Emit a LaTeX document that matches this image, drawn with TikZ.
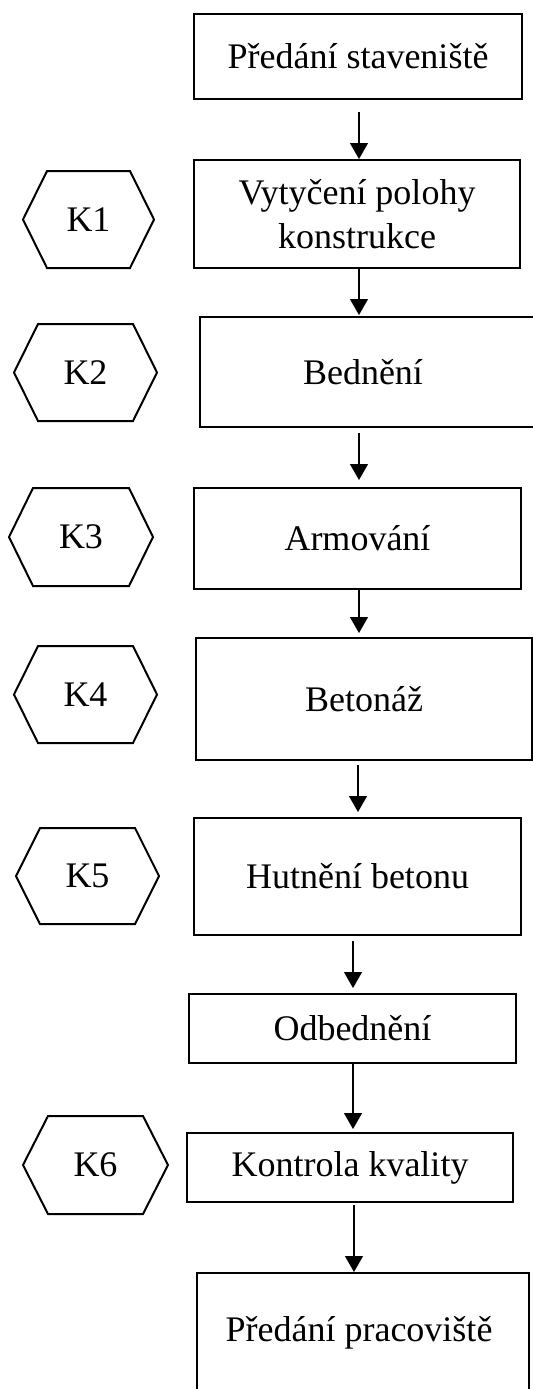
\documentclass[tikz,border=0pt]{standalone}
\usepackage{fontspec}
\setmainfont{Liberation Serif}
\usetikzlibrary{arrows.meta}
\newcommand{\flowbox}[6]{%
  \node[box, minimum width={(#4-#2)*0.5pt}, minimum height={(#5-#3)*0.5pt}] (#1) at ({(#2+#4)/2},{(#3+#5)/2}) {#6};}
\newcommand{\khex}[7]{%
  \node[txt] (#1) at (#2,#3) {#7};
  \draw[hexline] ({#2-#4},#3) -- ({#2-#4+#6},{#3-#5}) -- ({#2+#4-#6},{#3-#5}) -- ({#2+#4},#3)
     -- ({#2+#4-#6},{#3+#5}) -- ({#2-#4+#6},{#3+#5}) -- cycle;}
\begin{document}
\begin{tikzpicture}[x=0.5pt,y=-0.5pt,
  box/.style={draw, line width=1.4pt, inner sep=0pt, outer sep=0pt, align=center, font=\fontsize{18}{22}\selectfont},
  txt/.style={inner sep=0pt, align=center, font=\fontsize{18}{22}\selectfont},
  hexline/.style={line width=1pt, line join=miter},
  arr/.style={line width=0.65pt, -{Triangle[width=9pt,length=8pt]}}]
\useasboundingbox (0,0) rectangle (533,1389);

% process boxes
\flowbox{b1}{194}{14}{522}{99}{Předání staveniště}
\flowbox{b2}{194}{160}{520}{268}{Vytyčení polohy\\konstrukce}
\flowbox{b3}{200}{317}{548}{427}{}
\node[txt] (t3) at (363,372) {Bednění};
\flowbox{b4}{194}{488}{521}{589}{Armování}
\flowbox{b5}{196}{638}{532}{760}{Betonáž}
\flowbox{b6}{194}{818}{521}{935}{Hutnění betonu}
\flowbox{b7}{189}{994}{516}{1063}{Odbednění}
\flowbox{b8}{187}{1133}{513}{1202}{Kontrola kvality}
\flowbox{b9}{197}{1273}{529}{1400}{}
\node[txt] (t9) at (359,1333) {Předání pracoviště};

% control points
\khex{k1}{88.5}{219.5}{65.5}{48.5}{24}{K1}
\khex{k2}{85.5}{372.5}{71.5}{48.5}{24}{K2}
\khex{k3}{81}{537}{72}{49}{24}{K3}
\khex{k4}{85.5}{694.5}{71.5}{48.5}{24}{K4}
\khex{k5}{87.5}{876}{71.5}{48}{24}{K5}
\khex{k6}{95.5}{1165}{72.5}{49}{25}{K6}

% arrows
\draw[arr] ([shift={(1,13)}]b1.south) -- ([shift={(2,-1)}]b2.north);
\draw[arr] ([shift={(2,0)}]b2.south) -- ([shift={(-15,-2)}]b3.north);
\draw[arr] ([shift={(-15,6)}]b3.south) -- ([shift={(1.5,-8)}]b4.north);
\draw[arr] ([shift={(1.5,0)}]b4.south) -- ([shift={(-5,-5)}]b5.north);
\draw[arr] ([shift={(-6,5)}]b5.south) -- ([shift={(0.5,-6)}]b6.north);
\draw[arr] ([shift={(-4.5,6)}]b6.south) -- ([shift={(0.5,-6)}]b7.north);
\draw[arr] ([shift={(0.5,0)}]b7.south) -- ([shift={(3,-4)}]b8.north);
\draw[arr] ([shift={(4,3)}]b8.south) -- ([shift={(-9,-1)}]b9.north);
\end{tikzpicture}
\end{document}
